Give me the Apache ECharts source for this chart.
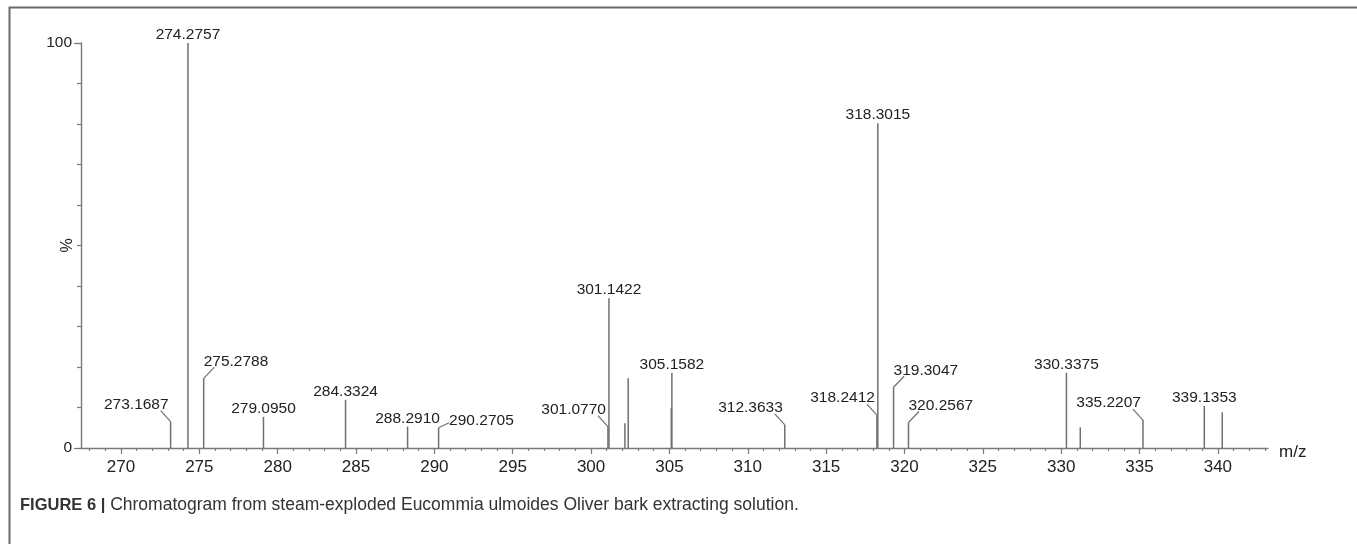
<!DOCTYPE html>
<html>
<head>
<meta charset="utf-8">
<title>Chromatogram</title>
<script src="https://cdn.jsdelivr.net/npm/echarts@6/dist/echarts.min.js"></script>
<style>
  html, body { margin: 0; padding: 0; background: #ffffff; }
  #chart { width: 1357px; height: 544px; }
</style>
</head>
<body>
<div id="chart"></div>
<script>
// Labelled peaks: m/z and relative intensity (%)
const labeledMz = [273.1687, 274.2757, 275.2788, 279.0950, 284.3324, 288.2910, 290.2705,
  301.0770, 301.1422, 305.1582, 312.3633, 318.2412, 318.3015, 319.3047, 320.2567,
  330.3375, 335.2207, 339.1353];
const labeledIntensity = [6.5, 100, 17.2, 7.7, 11.9, 5.3, 5.0,
  5.3, 37.0, 18.6, 5.7, 8.1, 80.2, 15.0, 6.3,
  18.6, 6.9, 10.4];

// Unlabelled peaks
const minorMz = [302.16, 302.37, 305.12, 331.22, 340.28];
const minorIntensity = [6.1, 17.2, 9.9, 5.1, 8.8];

// Axis ticks
const majorTicks = [270, 275, 280, 285, 290, 295, 300, 305, 310, 315, 320, 325, 330, 335, 340];
const yLabelTicks = [0, 100];
const X_MIN = 267.45, X_MAX = 343.2;

const minorTicks = [];
for (let v = Math.ceil(X_MIN); v <= Math.floor(X_MAX); v++) minorTicks.push(v);

// How each peak label is attached: above the stick, or via a slanted leader
const leaderSide = {
  '273.1687': 'left', '275.2788': 'right', '290.2705': 'rightFar',
  '301.0770': 'left', '312.3633': 'left', '318.2412': 'left',
  '319.3047': 'right', '320.2567': 'right', '335.2207': 'left'
};

const STICK = '#707070';
const AXIS = '#7a7a7a';
const TEXT = '#222222';
const FONT = 'Liberation Sans, Arial, Helvetica, sans-serif';

function stick(api) {
  const base = api.coord([api.value(0), 0]);
  const top = api.coord([api.value(0), api.value(1)]);
  return { base, top, line: {
    type: 'line',
    shape: { x1: base[0], y1: base[1], x2: top[0], y2: top[1] },
    style: { stroke: STICK, lineWidth: 1.5 }
  }};
}

const chart = echarts.init(document.getElementById('chart'), null, { renderer: 'canvas' });

chart.setOption({
  backgroundColor: '#ffffff',
  animation: false,
  grid: { left: 81, right: 89, top: 43, bottom: 96, containLabel: false },
  xAxis: [
    {
      type: 'value', min: X_MIN, max: X_MAX,
      name: '{u|m/z}', nameLocation: 'end', nameGap: 11,
      nameTextStyle: {
        fontSize: 17, color: TEXT, fontFamily: FONT,
        rich: { u: { fontSize: 17, color: TEXT, fontFamily: FONT, padding: [9, 0, 0, 0] } }
      },
      axisLine: { show: true, onZero: false, lineStyle: { color: AXIS, width: 1.4 } },
      axisTick: { show: true, customValues: majorTicks, length: 6, lineStyle: { color: AXIS, width: 1.2 } },
      axisLabel: { customValues: majorTicks, fontSize: 17, color: TEXT, fontFamily: FONT, margin: 11 },
      splitLine: { show: false }
    },
    {
      type: 'value', min: X_MIN, max: X_MAX, position: 'bottom',
      axisLine: { show: false },
      axisTick: { show: true, customValues: minorTicks, length: 3, lineStyle: { color: AXIS, width: 1.2 } },
      axisLabel: { show: false },
      splitLine: { show: false }
    }
  ],
  yAxis: [
    {
      type: 'value', min: 0, max: 100, interval: 10,
      name: '%', nameLocation: 'middle', nameGap: 5, nameRotate: 90,
      nameTextStyle: { fontSize: 16, color: TEXT, fontFamily: FONT },
      axisLine: { show: true, lineStyle: { color: AXIS, width: 1.4 } },
      axisTick: { show: true, length: 4, lineStyle: { color: AXIS, width: 1.2 } },
      axisLabel: { show: false },
      splitLine: { show: false }
    },
    {
      type: 'value', min: 0, max: 100, position: 'left',
      axisLine: { show: false },
      axisTick: { show: true, customValues: yLabelTicks, length: 7, lineStyle: { color: AXIS, width: 1.2 } },
      axisLabel: { customValues: yLabelTicks, fontSize: 15.5, color: TEXT, fontFamily: FONT, margin: 9 },
      splitLine: { show: false }
    }
  ],
  series: [
    {
      // unlabelled sticks
      type: 'custom', coordinateSystem: 'cartesian2d', xAxisIndex: 0, yAxisIndex: 0,
      data: minorMz.map((m, i) => [m, minorIntensity[i]]),
      renderItem: (params, api) => stick(api).line
    },
    {
      // labelled sticks with their m/z annotations
      type: 'custom', coordinateSystem: 'cartesian2d', xAxisIndex: 0, yAxisIndex: 0,
      data: labeledMz.map((m, i) => [m, labeledIntensity[i]]),
      renderItem: (params, api) => {
        const s = stick(api);
        const label = api.value(0).toFixed(4);
        const side = leaderSide[label] || 'up';
        const children = [s.line];
        const tx = s.top[0], ty = s.top[1];
        const textStyle = { fill: TEXT, fontSize: 15.5, fontFamily: FONT, verticalAlign: 'middle' };
        if (side === 'up') {
          children.push({ type: 'text', style: Object.assign({ text: label, x: tx, y: ty - 8, align: 'center' }, textStyle) });
        } else {
          const dx = side === 'left' ? -10 : 10.5;
          const dy = side === 'rightFar' ? -5 : -11;
          const ex = tx + dx, ey = ty + dy;
          children.push({
            type: 'polyline',
            shape: { points: [[tx, ty], [ex, ey]] },
            style: { stroke: STICK, lineWidth: 1.2, fill: null }
          });
          if (side === 'left') {
            children.push({ type: 'text', style: Object.assign({ text: label, x: tx - 2, y: ey - 6, align: 'right' }, textStyle) });
          } else if (side === 'right') {
            children.push({ type: 'text', style: Object.assign({ text: label, x: tx, y: ey - 6, align: 'left' }, textStyle) });
          } else {
            children.push({ type: 'text', style: Object.assign({ text: label, x: ex, y: ey - 2, align: 'left' }, textStyle) });
          }
        }
        return { type: 'group', children };
      }
    }
  ],
  graphic: [
    {
      type: 'rect', left: 7, top: 5, silent: true,
      shape: { width: 1349, height: 560 },
      style: { fill: 'none', stroke: '#6a6a6a', lineWidth: 2 }
    },
    {
      type: 'text', left: 20, top: 496, silent: true,
      style: {
        text: '{b|FIGURE 6 |} Chromatogram from steam-exploded Eucommia ulmoides Oliver bark extracting solution.',
        fontSize: 17.5, fontFamily: FONT, fill: '#333',
        rich: {
          b: { fontWeight: 'bold', fontSize: 16.5, fontFamily: FONT, fill: '#333' }
        }
      }
    }
  ]
});
</script>
</body>
</html>
